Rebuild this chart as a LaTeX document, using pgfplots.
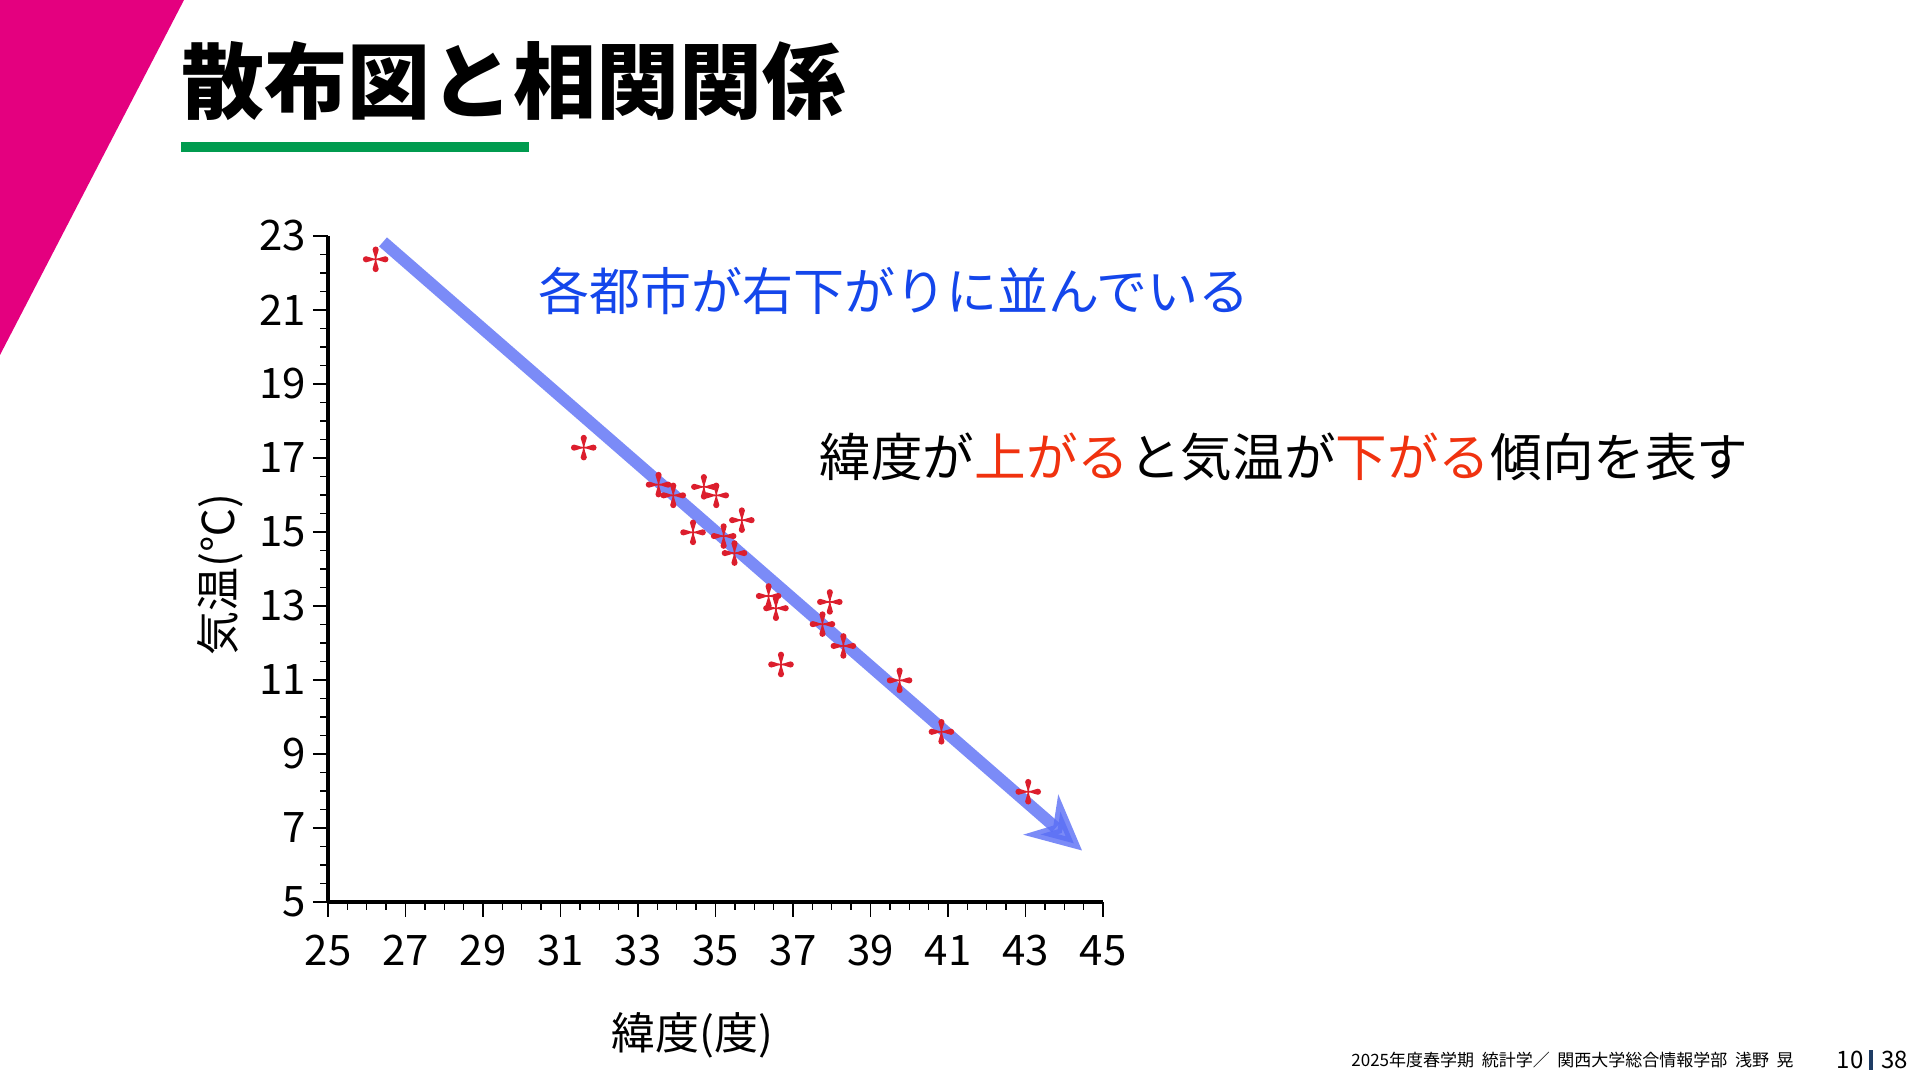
\documentclass[border=0pt]{standalone}
\usepackage{fontspec}
\setmainfont{Noto Sans CJK JP}
\usepackage{pgfplots}
\pgfplotsset{compat=1.18}
\usetikzlibrary{arrows.meta}

\definecolor{slidemag}{HTML}{E4007F}
\definecolor{slidegreen}{HTML}{009B4F}
\definecolor{noteblue}{HTML}{1446EB}
\definecolor{notered}{HTML}{F0320F}
\definecolor{markred}{HTML}{DC1E2D}
\definecolor{arrowblue}{HTML}{5A6EF5}
\definecolor{barnavy}{HTML}{1E3C64}

% four teardrop spokes, like the marks of the original plot
\pgfdeclareplotmark{petal}{%
  \foreach \a in {0,90,180,270}{%
    \pgfscope
    \pgftransformrotate{\a}%
    \pgfpathmoveto{\pgfpoint{0.05\pgfplotmarksize}{0pt}}%
    \pgfpathcurveto{\pgfpoint{0.07\pgfplotmarksize}{0.4\pgfplotmarksize}}%
      {\pgfpoint{0.24\pgfplotmarksize}{0.55\pgfplotmarksize}}%
      {\pgfpoint{0.24\pgfplotmarksize}{0.76\pgfplotmarksize}}%
    \pgfpathcurveto{\pgfpoint{0.24\pgfplotmarksize}{0.9\pgfplotmarksize}}%
      {\pgfpoint{0.12\pgfplotmarksize}{1.0\pgfplotmarksize}}%
      {\pgfpoint{0pt}{1.0\pgfplotmarksize}}%
    \pgfpathcurveto{\pgfpoint{-0.12\pgfplotmarksize}{1.0\pgfplotmarksize}}%
      {\pgfpoint{-0.24\pgfplotmarksize}{0.9\pgfplotmarksize}}%
      {\pgfpoint{-0.24\pgfplotmarksize}{0.76\pgfplotmarksize}}%
    \pgfpathcurveto{\pgfpoint{-0.24\pgfplotmarksize}{0.55\pgfplotmarksize}}%
      {\pgfpoint{-0.07\pgfplotmarksize}{0.4\pgfplotmarksize}}%
      {\pgfpoint{-0.05\pgfplotmarksize}{0pt}}%
    \pgfpathclose
    \pgfusepathqfill
    \endpgfscope
  }%
}

\pgfplotstableread{
lat temp
26.23 22.37
31.60 17.28
33.53 16.28
33.91 15.99
34.70 16.22
35.02 15.99
35.68 15.32
34.42 14.99
35.21 14.89
35.49 14.43
36.37 13.27
36.56 12.94
37.95 13.11
37.76 12.51
38.30 11.92
36.69 11.42
39.75 10.99
40.83 9.60
43.07 7.98
}\cities

\begin{document}
\begin{tikzpicture}[x=1pt,y=1pt]
\useasboundingbox (0,0) rectangle (960,540);

% slide decoration
\fill[slidemag] (0,540) -- (92,540) -- (0,362.5) -- cycle;
\node[anchor=west, inner sep=0pt, font=\fontsize{41.5}{44}\selectfont\bfseries]
  at (90.5,499.5) {散布図と相関関係};
\fill[slidegreen] (90.5,464) rectangle (264.5,469);

\begin{axis}[
  at={(164pt,89pt)}, anchor=south west,
  scale only axis, width=387.5pt, height=333pt,
  xmin=25, xmax=45, ymin=5, ymax=23,
  xtick={25,27,...,45}, ytick={5,7,...,23},
  minor tick num=3,
  axis lines=left,
  axis line style={-, line width=2pt, black},
  tick align=outside,
  major tick length=7.5pt, minor tick length=4pt,
  tick style={black, line width=0.7pt},
  /pgf/number format/assume math mode=true,
  ticklabel style={font=\fontsize{21}{23}\selectfont},
  xticklabel style={yshift=-5.5pt},
  xlabel={緯度(度)}, ylabel={気温(℃)},
  label style={font=\fontsize{22}{24}\selectfont},
  xlabel style={at={(axis description cs:0.47,-0.2)}, anchor=center},
  ylabel style={at={(axis description cs:-0.139,0.491)}, anchor=center, rotate=0},
  clip=false,
]
\addplot[only marks, mark=petal, mark size=6.4pt, color=markred]
  table[x=lat, y=temp] {\cities};
\addplot[arrowblue, opacity=0.8, line width=6pt,
  -{Stealth[length=27pt, width=26pt, inset=8pt]}]
  coordinates {(26.42,22.84) (44.46,6.39)};
\end{axis}

% annotations
\node[font=\fontsize{25.5}{28}\selectfont, text=noteblue, inner sep=0pt]
  at (447,394.5) {各都市が右下がりに並んでいる};
\node[font=\fontsize{25.8}{28}\selectfont, inner sep=0pt]
  at (642,311.5) {緯度が\textcolor{notered}{上がる}と気温が\textcolor{notered}{下がる}傾向を表す};

% footer
\node[anchor=west, font=\fontsize{8.5}{10}\selectfont, inner sep=0pt]
  at (675.5,10) {2025年度春学期\ \ 統計学／\ \ 関西大学総合情報学部\ \ 浅野\ \ 晃};
\node[anchor=east, font=\fontsize{12}{14}\selectfont, inner sep=0pt]
  at (932,10) {10};
\fill[barnavy] (934.6,5) rectangle (936.6,15);
\node[anchor=west, font=\fontsize{12}{14}\selectfont, inner sep=0pt]
  at (940.5,10) {38};
\end{tikzpicture}
\end{document}
